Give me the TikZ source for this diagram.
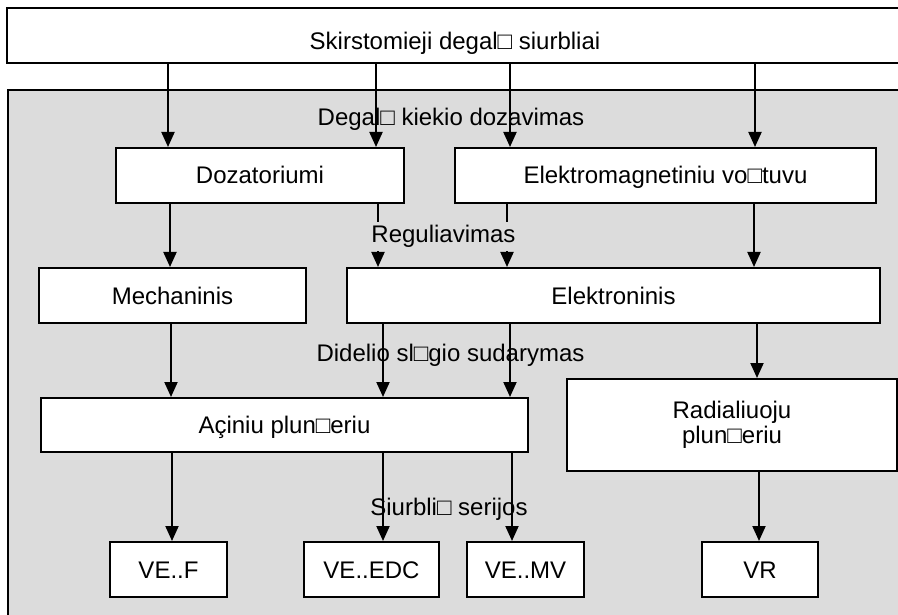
\documentclass[tikz,border=0pt]{standalone}
\usepackage{fontspec}
\setmainfont{Liberation Sans}
\usetikzlibrary{arrows.meta}
\definecolor{pane}{RGB}{220,220,220}
\tikzset{
  box/.style={draw, line width=2pt, fill=white, inner sep=0pt,
    font=\fontsize{24}{25}\selectfont},
  onerow/.style={box, text height=17pt, text depth=0pt, minimum height=55pt},
  arr/.style={line width=2pt, -{Triangle[length=15pt,width=13pt]}},
  tag/.style={anchor=base, inner sep=0pt, font=\fontsize{24}{25}\selectfont},
}
\begin{document}
\begin{tikzpicture}[x=1pt, y=-1pt]
      \useasboundingbox (0,0) rectangle (898,615);
      \fill[white] (0,0) rectangle (898,615);
      %
      \fill[pane] (8,90) rectangle (920,640);          % shaded panel
      \draw[line width=2pt] (8,640) -- (8,90) -- (920,90);
      %
      \node[box, minimum width=896pt, minimum height=55pt,
            text height=27.6pt, text depth=0pt] (top) at (455,35.5)
            {Skirstomieji degal□ siurbliai};
      %
      \node[onerow, minimum width=288pt] (doz)  at (260,175.5)   {Dozatoriumi};     % second row
      \node[onerow, minimum width=421pt] (emag) at (665.5,175.5) {Elektromagnetiniu vo□tuvu};
      %%
      \node[onerow, minimum width=267pt] (mech) at (172.5,295.5) {Mechaninis};      % third row
      \node[onerow, minimum width=533pt] (elek) at (613.5,295.5) {Elektroninis};
      %%
      \node[onerow, minimum width=487pt, minimum height=54pt] (aci) at (284.5,425) {Açiniu plun□eriu};
      \node[box, minimum width=330pt, minimum height=92pt, align=center] (rad) at (732,425)
            {Radialiuoju\\plun□eriu};
      %%
      \node[onerow, minimum width=117pt] (vef)   at (168.5,569.5) {VE..F};          % pump series
      \node[onerow, minimum width=135pt] (veedc) at (371.5,569.5) {VE..EDC};
      \node[onerow, minimum width=117pt] (vemv)  at (525.5,569.5) {VE..MV};
      \node[onerow, minimum width=116pt] (vr)    at (760,569.5)   {VR};
      %
      \draw[arr] (top.south -| 168,0) -- (doz.north -| 168,0);   % dosing
      \draw[arr] (top.south -| 376,0) -- (doz.north -| 376,0);
      \draw[arr] (top.south -| 510,0) -- (emag.north -| 510,0);
      \draw[arr] (top.south -| 755,0) -- (emag.north -| 755,0);
      %
      \draw[arr] (doz.south -| 170,0) -- (mech.north -| 170,0);  % control
      \draw[arr] (doz.south -| 378,0) -- (elek.north -| 378,0);
      \draw[arr] (emag.south -| 507,0) -- (elek.north -| 507,0);
      \draw[arr] (emag.south -| 754,0) -- (elek.north -| 754,0);
      %
      \draw[arr] (mech.south -| 171,0) -- (aci.north -| 171,0);  % high pressure
      \draw[arr] (elek.south -| 383,0) -- (aci.north -| 383,0);
      \draw[arr] (elek.south -| 510,0) -- (aci.north -| 510,0);
      \draw[arr] (elek.south -| 757,0) -- (rad.north -| 757,0);
      %
      \draw[arr] (aci.south -| 172,0) -- (vef.north -| 172,0);   % series
      \draw[arr] (aci.south -| 383,0) -- (veedc.north -| 383,0);
      \draw[arr] (aci.south -| 512,0) -- (vemv.north -| 512,0);
      \draw[arr] (rad.south -| 759,0) -- (vr.north -| 759,0);
      %
      \node[tag] (lbla) at (451,126) {Degal□ kiekio dozavimas};
      \node[tag, fill=pane, inner xsep=2pt, inner ysep=3.5pt] (lblb) at (443.5,243) {Reguliavimas};
      \node[tag] (lblc) at (450.5,361) {Didelio sl□gio sudarymas};
      \node[tag] (lbld) at (449,515) {Siurbli□ serijos};
      %
    \end{tikzpicture}
\end{document}
